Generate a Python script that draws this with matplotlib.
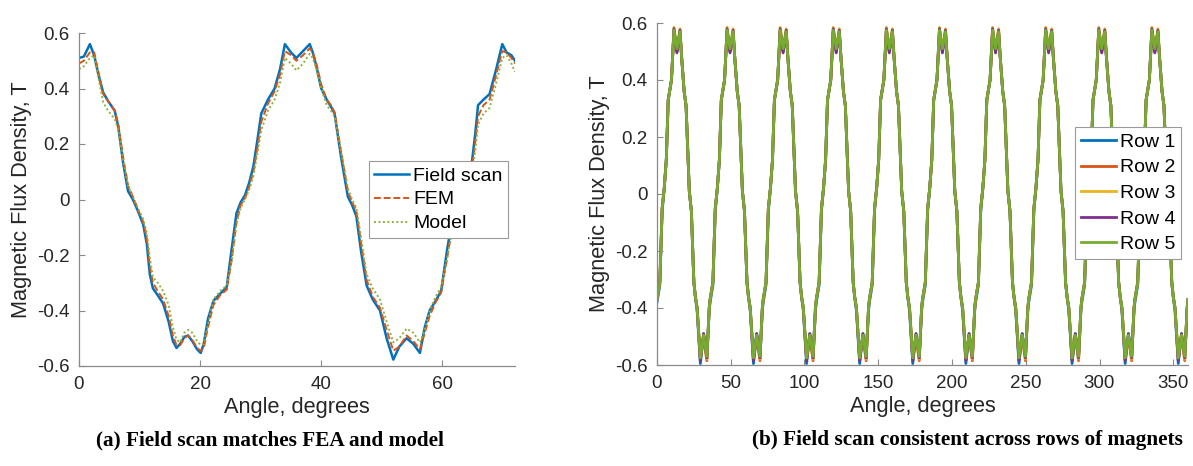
import numpy as np
import matplotlib
matplotlib.use("Agg")
import matplotlib.pyplot as plt

plt.rcParams['font.family'] = ['Liberation Sans', 'DejaVu Sans']
plt.rcParams['axes.unicode_minus'] = False

# ---------------- (a) data: one pole pair, 0-72 degrees ----------------
angles_a = [0, 0.8, 1.8, 2.5, 3.2, 4.0, 4.8, 5.9, 6.5, 7.3,
            8.1, 8.9, 9.8, 10.6, 11.2, 11.7, 12.2, 13.0, 13.9, 14.8,
            15.5, 16.1, 16.7, 17.4, 18.0, 18.7, 19.5, 20.1, 20.6, 21.3,
            22.2, 23.3, 24.4, 25.2, 26.0, 26.7, 27.4, 28.1, 28.8, 29.5,
            30.1, 31.2, 32.3, 33.2, 34.0, 35.0, 35.9, 37.0, 38.1, 38.6,
            39.2, 40.0, 40.9, 41.6, 42.2, 43.3, 44.4, 45.1, 45.8, 46.6,
            47.5, 48.5, 49.7, 50.8, 51.9, 52.9, 54.1, 55.2, 56.3, 57.1,
            57.9, 58.9, 59.8, 60.8, 61.8, 62.6, 63.4, 64.1, 64.8, 65.4,
            65.9, 66.8, 67.8, 68.9, 69.9, 70.6, 71.4, 72]
field_scan = [0.51, 0.515, 0.56, 0.52, 0.45, 0.385, 0.355, 0.32, 0.26, 0.13,
              0.03, 0.0, -0.045, -0.09, -0.16, -0.27, -0.32, -0.345, -0.375, -0.44,
              -0.51, -0.535, -0.52, -0.495, -0.49, -0.51, -0.54, -0.553, -0.52, -0.43,
              -0.365, -0.34, -0.315, -0.18, -0.05, -0.01, 0.015, 0.06, 0.12, 0.22,
              0.31, 0.36, 0.40, 0.47, 0.56, 0.53, 0.51, 0.535, 0.56, 0.53,
              0.48, 0.40, 0.36, 0.335, 0.31, 0.15, 0.01, -0.02, -0.06, -0.19,
              -0.31, -0.36, -0.40, -0.50, -0.577, -0.53, -0.50, -0.52, -0.553, -0.46,
              -0.40, -0.365, -0.33, -0.18, -0.05, -0.01, 0.015, 0.06, 0.12, 0.23,
              0.34, 0.36, 0.38, 0.47, 0.56, 0.53, 0.52, 0.50]
fem = [0.49, 0.50, 0.53, 0.53, 0.46, 0.38, 0.355, 0.32, 0.27, 0.15,
       0.05, 0.01, -0.04, -0.08, -0.14, -0.24, -0.30, -0.33, -0.36, -0.42,
       -0.49, -0.525, -0.525, -0.50, -0.49, -0.505, -0.535, -0.545, -0.535, -0.46,
       -0.38, -0.345, -0.325, -0.22, -0.08, -0.02, 0.005, 0.045, 0.10, 0.19,
       0.28, 0.345, 0.39, 0.45, 0.535, 0.52, 0.50, 0.52, 0.545, 0.53,
       0.49, 0.415, 0.36, 0.34, 0.315, 0.17, 0.03, -0.01, -0.04, -0.16,
       -0.29, -0.35, -0.39, -0.47, -0.545, -0.53, -0.49, -0.51, -0.54, -0.48,
       -0.42, -0.37, -0.335, -0.21, -0.08, -0.02, 0.005, 0.045, 0.10, 0.20,
       0.30, 0.34, 0.36, 0.45, 0.535, 0.53, 0.51, 0.49]
model = [0.47, 0.48, 0.51, 0.52, 0.44, 0.35, 0.32, 0.29, 0.25, 0.14,
         0.05, 0.01, -0.035, -0.07, -0.12, -0.21, -0.28, -0.30, -0.33, -0.38,
         -0.46, -0.505, -0.515, -0.48, -0.47, -0.48, -0.51, -0.525, -0.52, -0.45,
         -0.36, -0.33, -0.31, -0.22, -0.09, -0.03, 0.0, 0.035, 0.085, 0.17,
         0.25, 0.32, 0.36, 0.42, 0.51, 0.49, 0.465, 0.49, 0.525, 0.51,
         0.47, 0.40, 0.34, 0.32, 0.30, 0.17, 0.04, 0.0, -0.03, -0.14,
         -0.27, -0.32, -0.36, -0.44, -0.515, -0.50, -0.465, -0.48, -0.515, -0.47,
         -0.40, -0.35, -0.315, -0.21, -0.09, -0.03, 0.0, 0.035, 0.085, 0.17,
         0.27, 0.31, 0.33, 0.42, 0.51, 0.52, 0.49, 0.46]

# ---------------- (b) data: per-row profile over one 36-degree pole pair ----------------
pole_pitch = 36
n_poles = 10
phase_b = [0, 1.9, 3.5, 4.9, 6.3, 7.6, 9.8, 11.5, 13.5, 15.6, 16.7, 18.4, 19.7, 21.9, 23.3,
           25.0, 26.0, 27.2, 29.4, 31.6, 33.8, 35.4]
row1 = [-0.38, -0.32, -0.06, 0.02, 0.12, 0.33, 0.40, 0.57, 0.50, 0.565, 0.48, 0.36, 0.31, 0.01,
        -0.06, -0.31, -0.36, -0.41, -0.595, -0.49, -0.575, -0.41]
row2 = [-0.37, -0.31, -0.05, 0.02, 0.12, 0.33, 0.40, 0.575, 0.50, 0.57, 0.48, 0.36, 0.31, 0.01,
        -0.06, -0.31, -0.36, -0.40, -0.58, -0.50, -0.585, -0.40]
row3 = [-0.37, -0.31, -0.05, 0.02, 0.12, 0.33, 0.40, 0.585, 0.51, 0.58, 0.48, 0.36, 0.31, 0.01,
        -0.06, -0.31, -0.36, -0.40, -0.575, -0.50, -0.58, -0.40]
row4 = [-0.37, -0.31, -0.05, 0.02, 0.12, 0.33, 0.40, 0.58, 0.495, 0.575, 0.48, 0.36, 0.31, 0.01,
        -0.06, -0.31, -0.36, -0.40, -0.585, -0.49, -0.575, -0.40]
row5 = [-0.37, -0.31, -0.05, 0.02, 0.12, 0.33, 0.40, 0.575, 0.51, 0.57, 0.48, 0.36, 0.31, 0.01,
        -0.06, -0.31, -0.36, -0.40, -0.575, -0.495, -0.57, -0.40]
row_labels = ['Row 1', 'Row 2', 'Row 3', 'Row 4', 'Row 5']

matlab_colors = ['#0072BD', '#D95319', '#EDB120', '#7E2F8E', '#77AC30']

yticks = [-0.6, -0.4, -0.2, 0, 0.2, 0.4, 0.6]
ytick_labels = ['-0.6', '-0.4', '-0.2', '0', '0.2', '0.4', '0.6']
xticks_a = [0, 20, 40, 60]
xticks_b = [0, 50, 100, 150, 200, 250, 300, 350]

W, H = 1193, 466
fig = plt.figure(figsize=(W / 100, H / 100), dpi=100)

axis_gray = '#8a8a8a'
text_col = '#262626'
tick_fs = 13.5
label_fs = 15.7
legend_fs = 14


def style(ax):
    for s in ['top', 'right']:
        ax.spines[s].set_visible(False)
    for s in ['left', 'bottom']:
        ax.spines[s].set_color(axis_gray)
        ax.spines[s].set_linewidth(0.9)
    ax.tick_params(direction='in', length=4, width=0.8, color=axis_gray,
                   labelsize=tick_fs, labelcolor=text_col, pad=7)
    ax.set_yticks(yticks)
    ax.set_yticklabels(ytick_labels)
    ax.set_ylim(-0.6, 0.6)


def make_legend(ax, anchor, spacing):
    leg = ax.legend(loc='upper right', bbox_to_anchor=anchor, fontsize=legend_fs,
                    frameon=True, fancybox=False, framealpha=1, edgecolor='#9a9a9a',
                    handlelength=1.8, handletextpad=0.2, borderpad=0.3, labelspacing=spacing,
                    borderaxespad=0)
    leg.get_frame().set_linewidth(0.8)
    return leg


# ---------- (a) ----------
axa = fig.add_axes([79 / W, 1 - 366 / H, 436 / W, 333 / H])
axa.plot(angles_a, field_scan, color=matlab_colors[0], lw=1.8, label='Field scan')
axa.plot(angles_a, fem, color=matlab_colors[1], lw=1.4, ls=(0, (3.5, 1.5)), label='FEM')
axa.plot(angles_a, model, color='#8fb03a', lw=1.4, ls=(0, (1, 1.3)), label='Model')
style(axa)
axa.set_xlim(0, 72)
axa.set_xticks(xticks_a)
axa.set_xlabel('Angle, degrees', fontsize=label_fs, color=text_col, labelpad=3)
axa.set_ylabel('Magnetic Flux Density, T', fontsize=label_fs, color=text_col, labelpad=3)
make_legend(axa, (0.985, 0.615), 0.32)

# ---------- (b) ----------
axb = fig.add_axes([657 / W, 1 - 365 / H, 531 / W, 342 / H])
pole_starts = np.arange(n_poles) * pole_pitch
angles_b = np.concatenate([np.asarray(phase_b) + s for s in pole_starts] + [[n_poles * pole_pitch]])
for vals, lab, col in zip([row1, row2, row3, row4, row5], row_labels, matlab_colors):
    series = np.concatenate([np.asarray(vals)] * n_poles + [[vals[0]]])
    axb.plot(angles_b, series, color=col, lw=2.0, label=lab)
style(axb)
axb.set_xlim(0, 360)
axb.set_xticks(xticks_b)
axb.set_xlabel('Angle, degrees', fontsize=label_fs, color=text_col, labelpad=3)
axb.set_ylabel('Magnetic Flux Density, T', fontsize=label_fs, color=text_col, labelpad=3)
make_legend(axb, (0.987, 0.695), 0.41)

# ---------- captions ----------
cap_font = ['Liberation Serif', 'DejaVu Serif']
fig.text(270 / W, 1 - 440 / H, '(a) Field scan matches FEA and model', ha='center', va='center',
         fontsize=15.3, fontweight='bold', family=cap_font)
fig.text(967 / W, 1 - 440 / H, '(b) Field scan consistent across rows of magnets', ha='center',
         va='center', fontsize=15.3, fontweight='bold', family=cap_font)

fig.savefig('out.png', dpi=100, facecolor='white')
